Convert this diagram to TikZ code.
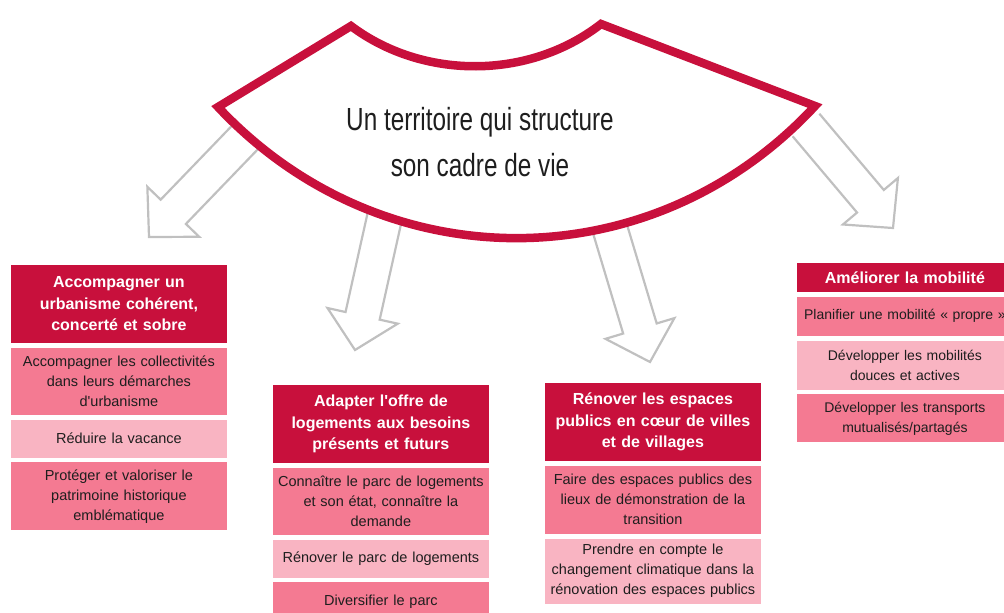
\documentclass[tikz,border=0pt]{standalone}
\usepackage{fontspec}
\setmainfont{Liberation Sans}
\newfontfamily\narrowfont[FakeStretch=0.76]{Liberation Sans}
\usetikzlibrary{calc,positioning}

\definecolor{crimson}{RGB}{200,16,60}
\definecolor{pinkmid}{RGB}{244,122,146}
\definecolor{pinklight}{RGB}{249,180,194}
\definecolor{arrowgray}{RGB}{192,192,192}
\definecolor{ink}{RGB}{30,30,30}

% hollow block arrow: #1 = tail, #2 = tip
\newcommand{\blockarrow}[2]{%
	\draw[hollow] ($(#1)!17.5pt!90:(#2)$) -- ($(#2)!35pt!(#1)!17.5pt!90:(#2)$)
		-- ($(#2)!35pt!(#1)!36pt!90:(#2)$) -- (#2)
		-- ($(#2)!35pt!(#1)!36pt!-90:(#2)$) -- ($(#2)!35pt!(#1)!17.5pt!-90:(#2)$)
		-- ($(#1)!17.5pt!-90:(#2)$);
}

\begin{document}
\begin{tikzpicture}[x=1pt, y=-1pt,
		hollow/.style={draw=arrowgray, line width=2.2pt, line join=miter},
		titlebox/.style={fill=crimson, text=white, font=\bfseries\fontsize{16}{21.5}\selectfont,
			text width=207pt, inner xsep=5pt, inner ysep=0pt, align=center, draw=white, line width=0.8pt},
		cellbox/.style={fill=pinkmid, text=ink, font=\fontsize{14.5}{20}\selectfont,
			text width=207pt, inner xsep=5pt, inner ysep=0pt, align=center, draw=white, line width=0.8pt},
		lightbox/.style={cellbox, fill=pinklight},
		small/.style={font=\fontsize{14}{20}\selectfont}]
		\useasboundingbox (0,0) rectangle (1004,613);
		\clip (0,0) rectangle (1004,613);

		% arrows (tails hidden under the fan)
		\coordinate (a1) at (255,127); \coordinate (t1) at (149,237);
		\coordinate (a2) at (392,184); \coordinate (t2) at (355,350);
		\coordinate (a3) at (598,189); \coordinate (t3) at (650,362);
		\coordinate (a4) at (806,125); \coordinate (t4) at (893,228);
		\blockarrow{a1}{t1}
		\blockarrow{a2}{t2}
		\blockarrow{a3}{t3}
		\blockarrow{a4}{t4}

		% the fan
		\draw[crimson, fill=white, line width=8.5pt, line join=miter]
			(218,107) -- (351,26) .. controls (423,80) and (529,80) .. (601,24)
			-- (815,106) .. controls (652,282) and (382,282) .. (218,107) -- cycle;
		\node[font=\narrowfont\fontsize{32}{46}\selectfont, text=ink, align=center] (theme) at (480,142)
			{Un territoire qui structure\\son cadre de vie};

		% urbanisme
		\node[titlebox, minimum height=79pt, anchor=north west] (urba) at (10,264)
			{Accompagner un\\urbanisme cohérent,\\concerté et sobre};
		\node[cellbox, minimum height=68pt, below=3pt of urba] (urba1)
			{Accompagner les collectivités\\dans leurs démarches\\d\textquotesingle urbanisme};
		\node[lightbox, minimum height=39pt, below=3pt of urba1] (urba2) {Réduire la vacance};
		\node[cellbox, minimum height=69pt, below=3pt of urba2] (urba3)
			{Protéger et valoriser le\\patrimoine historique\\emblématique};

		% logements
		\node[titlebox, minimum height=79pt, anchor=north west] (loge) at (272,384)
			{Adapter l\textquotesingle offre de\\logements aux besoins\\présents et futurs};
		\node[cellbox, minimum height=68pt, below=3pt of loge] (loge1)
			{Connaître le parc de logements\\et son état, connaître la\\demande};
		\node[lightbox, minimum height=39pt, below=3pt of loge1] (loge2) {Rénover le parc de logements};
		\node[cellbox, minimum height=40pt, below=3pt of loge2] (loge3) {Diversifier le parc};

		% espaces publics
		\node[titlebox, minimum height=79pt, anchor=north west] (espa) at (544,382)
			{Rénover les espaces\\publics en cœur de villes\\et de villages};
		\node[cellbox, minimum height=69pt, below=3pt of espa] (espa1)
			{Faire des espaces publics des\\lieux de démonstration de la\\transition};
		\node[lightbox, minimum height=66pt, below=3pt of espa1] (espa2)
			{Prendre en compte le\\changement climatique dans la\\rénovation des espaces publics};

		% mobilite
		\node[titlebox, minimum height=30pt, anchor=north west] (mobi) at (796,262) {Améliorer la mobilité};
		\node[cellbox, small, minimum height=40pt, below=3pt of mobi] (mobi1)
			{\mbox{Planifier une mobilité « propre »}};
		\node[lightbox, small, minimum height=50pt, below=3pt of mobi1] (mobi2)
			{Développer les mobilités\\douces et actives};
		\node[cellbox, small, minimum height=49pt, below=3pt of mobi2] (mobi3)
			{Développer les transports\\mutualisés/partagés};
	\end{tikzpicture}
\end{document}
